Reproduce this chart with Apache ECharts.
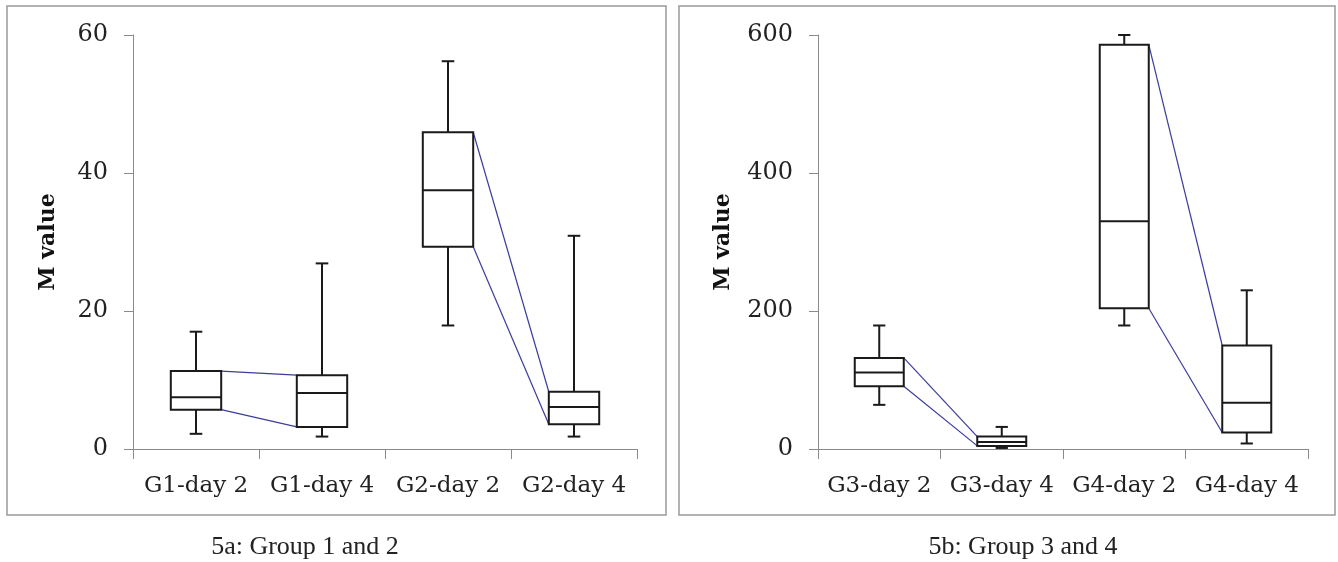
<!DOCTYPE html>
<html>
<head>
<meta charset="utf-8">
<script src="https://cdn.jsdelivr.net/npm/echarts@6/dist/echarts.min.js"></script>
<style>
  html, body { margin: 0; padding: 0; background: #ffffff; }
  #chart { width: 1338px; height: 562px; }
</style>
</head>
<body>
<div id="chart"></div>
<script>
// ---- Data ----
// Each box: [lower whisker, Q1, median, Q3, upper whisker]
const categoriesA = ['G1-day 2', 'G1-day 4', 'G2-day 2', 'G2-day 4'];
const boxesA = [
  [2.2, 5.7, 7.5, 11.3, 17.0],
  [1.8, 3.2, 8.1, 10.7, 26.9],
  [17.9, 29.3, 37.5, 45.9, 56.2],
  [1.8, 3.6, 6.1, 8.3, 30.9]
];
const categoriesB = ['G3-day 2', 'G3-day 4', 'G4-day 2', 'G4-day 4'];
const boxesB = [
  [64, 91, 111, 132, 179],
  [1.5, 4.5, 10, 18, 32],
  [179, 204, 330, 586, 600],
  [8, 24, 67, 150, 230]
];
// Pairs of boxes joined by the blue lines (day 2 -> day 4)
const pairsA = [[0, 1], [2, 3]];
const pairsB = [[0, 1], [2, 3]];
const yAxisA = { min: 0, max: 60, interval: 20 };
const yAxisB = { min: 0, max: 600, interval: 200 };
const yAxisTitle = 'M value';
const captionA = '5a: Group 1 and 2';
const captionB = '5b: Group 3 and 4';

// ---- Styling ----
const BOX_FRAC = 0.4;     // box width as fraction of band
const CAP_FRAC = 0.1;     // whisker cap width as fraction of band
const boxColor = '#1a1a1a';
const linkColor = '#3c3c9c';
const axisColor = '#8a8a8a';
const serif = '"DejaVu Serif", serif';

function boxData(boxes) {
  return boxes.map((b, i) => [i, b[0], b[1], b[2], b[3], b[4]]);
}
function linkData(pairs, boxes) {
  return pairs.map(p => [p[0], p[1], boxes[p[0]][3], boxes[p[0]][1], boxes[p[1]][3], boxes[p[1]][1]]);
}

function renderBox(params, api) {
  const i = api.value(0);
  const band = api.size([1, 0])[0];
  const xc = api.coord([i, api.value(3)])[0];
  const yLo = api.coord([i, api.value(1)])[1];
  const yQ1 = api.coord([i, api.value(2)])[1];
  const yMed = api.coord([i, api.value(3)])[1];
  const yQ3 = api.coord([i, api.value(4)])[1];
  const yHi = api.coord([i, api.value(5)])[1];
  const hw = band * BOX_FRAC / 2;
  const cw = band * CAP_FRAC / 2;
  const st = { stroke: boxColor, lineWidth: 2, fill: null };
  return {
    type: 'group',
    children: [
      { type: 'line', shape: { x1: xc, y1: yQ3, x2: xc, y2: yHi }, style: st },
      { type: 'line', shape: { x1: xc - cw, y1: yHi, x2: xc + cw, y2: yHi }, style: st },
      { type: 'line', shape: { x1: xc, y1: yQ1, x2: xc, y2: yLo }, style: st },
      { type: 'line', shape: { x1: xc - cw, y1: yLo, x2: xc + cw, y2: yLo }, style: st },
      { type: 'rect', shape: { x: xc - hw, y: yQ3, width: 2 * hw, height: yQ1 - yQ3 },
        style: { stroke: boxColor, lineWidth: 2, fill: '#ffffff' } },
      { type: 'line', shape: { x1: xc - hw, y1: yMed, x2: xc + hw, y2: yMed }, style: st }
    ]
  };
}

function renderLink(params, api) {
  const a = api.value(0), b = api.value(1);
  const band = api.size([1, 0])[0];
  const hw = band * BOX_FRAC / 2;
  const pA3 = api.coord([a, api.value(2)]);
  const pA1 = api.coord([a, api.value(3)]);
  const pB3 = api.coord([b, api.value(4)]);
  const pB1 = api.coord([b, api.value(5)]);
  const st = { stroke: linkColor, lineWidth: 1.2, fill: null };
  return {
    type: 'group',
    children: [
      { type: 'line', shape: { x1: pA3[0] + hw, y1: pA3[1], x2: pB3[0] - hw, y2: pB3[1] }, style: st },
      { type: 'line', shape: { x1: pA1[0] + hw, y1: pA1[1], x2: pB1[0] - hw, y2: pB1[1] }, style: st }
    ]
  };
}

function xAxisCfg(cats, gi) {
  return {
    type: 'category', gridIndex: gi, data: cats, boundaryGap: true,
    axisLine: { show: true, lineStyle: { color: axisColor, width: 1 } },
    axisTick: { show: true, length: 10, lineStyle: { color: axisColor } },
    axisLabel: { interval: 0, hideOverlap: false, fontFamily: serif, fontSize: 23, color: '#222', margin: 26 },
    splitLine: { show: false }
  };
}
function yAxisCfg(cfg, gi, gap) {
  return {
    type: 'value', gridIndex: gi, min: cfg.min, max: cfg.max, interval: cfg.interval,
    name: yAxisTitle, nameLocation: 'middle', nameGap: gap,
    nameTextStyle: { fontFamily: serif, fontSize: 22, fontWeight: 'bold', color: '#111' },
    axisLine: { show: true, lineStyle: { color: axisColor, width: 1 } },
    axisTick: { show: true, length: 9, lineStyle: { color: axisColor } },
    axisLabel: { fontFamily: serif, fontSize: 24, color: '#222', margin: 25 },
    splitLine: { show: false }
  };
}

const chart = echarts.init(document.getElementById('chart'), null, { renderer: 'canvas' });
chart.setOption({
  backgroundColor: '#ffffff',
  animation: false,
  grid: [
    { left: 133, top: 35, width: 504, height: 414 },
    { left: 818, top: 35, width: 490, height: 414 }
  ],
  xAxis: [xAxisCfg(categoriesA, 0), xAxisCfg(categoriesB, 1)],
  yAxis: [yAxisCfg(yAxisA, 0, 74), yAxisCfg(yAxisB, 1, 84)],
  graphic: [
    { type: 'rect', shape: { x: 7, y: 6, width: 659, height: 509 },
      style: { fill: null, stroke: '#9a9a9a', lineWidth: 1.5 }, silent: true, z: -1 },
    { type: 'rect', shape: { x: 679, y: 6, width: 656, height: 509 },
      style: { fill: null, stroke: '#9a9a9a', lineWidth: 1.5 }, silent: true, z: -1 },
    { type: 'text', x: 305, y: 547,
      style: { text: captionA, fontFamily: '"Liberation Serif", serif', fontSize: 26, fill: '#222',
               textAlign: 'center', textVerticalAlign: 'middle' } },
    { type: 'text', x: 1023, y: 547,
      style: { text: captionB, fontFamily: '"Liberation Serif", serif', fontSize: 26, fill: '#222',
               textAlign: 'center', textVerticalAlign: 'middle' } }
  ],
  series: [
    { type: 'custom', xAxisIndex: 0, yAxisIndex: 0, renderItem: renderLink,
      data: linkData(pairsA, boxesA), encode: { x: [0, 1], y: [2, 3, 4, 5] }, z: 2 },
    { type: 'custom', xAxisIndex: 0, yAxisIndex: 0, renderItem: renderBox,
      data: boxData(boxesA), encode: { x: 0, y: [1, 2, 3, 4, 5] }, z: 3 },
    { type: 'custom', xAxisIndex: 1, yAxisIndex: 1, renderItem: renderLink,
      data: linkData(pairsB, boxesB), encode: { x: [0, 1], y: [2, 3, 4, 5] }, z: 2 },
    { type: 'custom', xAxisIndex: 1, yAxisIndex: 1, renderItem: renderBox,
      data: boxData(boxesB), encode: { x: 0, y: [1, 2, 3, 4, 5] }, z: 3 }
  ]
});
</script>
</body>
</html>
